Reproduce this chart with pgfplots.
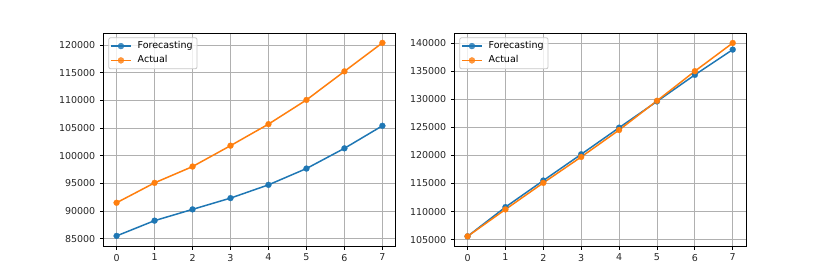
\documentclass[border=0pt]{standalone}
\usepackage{pgfplots}
\pgfplotsset{compat=1.18}
\usepackage{fontspec}
\setmainfont{DejaVu Sans}
\definecolor{tabblue}{HTML}{1F77B4}
\definecolor{taborange}{HTML}{FF7F0E}
\definecolor{gridgray}{HTML}{B0B0B0}
\pgfplotsset{
  mystyle/.style={
    scale only axis,
    width=292.4pt, height=212.7pt,
    xmin=-0.35, xmax=7.35,
    xtick={0,...,7},
    grid=major,
    major grid style={draw=gridgray, line width=0.8pt},
    axis line style={line width=0.8pt, black},
    tick align=outside,
    major tick length=3.5pt,
    every tick/.style={black, line width=0.8pt},
    xtick pos=bottom, ytick pos=left,
    scaled y ticks=false,
    /pgf/number format/fixed,
    /pgf/number format/1000 sep={},
    /pgf/number format/assume math mode=true,
    tick label style={font=\fontsize{9.5}{11}\selectfont, text=black!85},
    xticklabel style={yshift=-1pt},
    yticklabel style={xshift=-1pt},
    legend style={at={(0,1)}, anchor=north west, xshift=5pt, yshift=-4pt,
      draw=black!22, line width=0.8pt, rounded corners=2pt, fill=white, fill opacity=0.8, text opacity=1,
      font=\fontsize{9.5}{11}\selectfont, inner xsep=1.5pt, inner ysep=3.9pt,
      nodes={inner xsep=3pt, inner ysep=0pt, text height=7pt, text depth=2pt},
      row sep=5.3pt, column sep=3pt, cells={anchor=west}},
    legend image code/.code={\draw[mark repeat=2,mark phase=2] plot coordinates {(0pt,0pt)(10pt,0pt)(20pt,0pt)};},
  },
  fc/.style={tabblue, line width=1.5pt, mark=*, mark size=3pt, mark options={solid, fill=tabblue, draw=tabblue, line width=0.2pt}},
  ac/.style={taborange, line width=1.5pt, mark=*, mark size=3pt, mark options={solid, fill=taborange, draw=taborange, line width=0.2pt}},
}
\begin{document}
\begin{tikzpicture}
\useasboundingbox (0pt,0pt) rectangle (830pt,277pt);
\begin{axis}[mystyle, at={(103.3pt,31pt)}, anchor=south west,
  ymin=83650, ymax=122150, ytick={85000,90000,...,120000}]
\addplot[fc] coordinates {(0,85480) (1,88240) (2,90280) (3,92320) (4,94720) (5,97670) (6,101330) (7,105410)};
\addlegendentry{Forecasting}
\addplot[ac] coordinates {(0,91480) (1,95080) (2,98030) (3,101810) (4,105710) (5,110090) (6,115260) (7,120420)};
\addlegendentry{Actual}
\end{axis}
\begin{axis}[mystyle, at={(454.3pt,31pt)}, anchor=south west, width=291.7pt,
  ymin=103870, ymax=141720, ytick={105000,110000,...,140000}]
\addplot[fc] coordinates {(0,105590) (1,110790) (2,115520) (3,120190) (4,124920) (5,129600) (6,134330) (7,138820)};
\addlegendentry{Forecasting}
\addplot[ac] coordinates {(0,105590) (1,110380) (2,115110) (3,119720) (4,124510) (5,129710) (6,134980) (7,140000)};
\addlegendentry{Actual}
\end{axis}
\end{tikzpicture}
\end{document}
